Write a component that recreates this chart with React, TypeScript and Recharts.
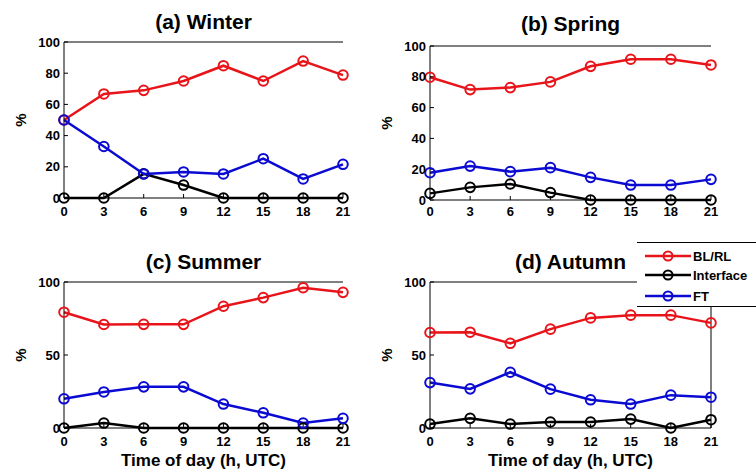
import { LineChart, Line, XAxis, YAxis, ReferenceLine, Label } from "recharts";

const hours = [0, 3, 6, 9, 12, 15, 18, 21];

const winterBL = [50, 66.7, 69, 75, 84.8, 75, 87.8, 78.8];
const winterInterface = [0, 0, 15.5, 8.3, 0, 0, 0, 0];
const winterFT = [50, 33, 15.4, 16.7, 15.4, 25.2, 12.2, 21.6];

const springBL = [79.7, 71.7, 73, 76.7, 86.8, 91.4, 91.4, 87.7];
const springInterface = [4.3, 8.2, 10.4, 4.8, 0, 0, 0, 0];
const springFT = [17.7, 22, 18.4, 21, 14.7, 9.7, 9.7, 13.4];

const summerBL = [79.3, 70.9, 71, 71, 83.4, 89.3, 96.1, 92.9];
const summerInterface = [0, 3.4, 0, 0, 0, 0, 0, 0];
const summerFT = [20, 24.7, 28.2, 28.2, 16.4, 10.4, 3.4, 6.6];

const autumnBL = [65.4, 65.6, 58, 67.7, 75.4, 77.3, 77.3, 72];
const autumnInterface = [2.7, 6.6, 2.7, 4.1, 4.1, 6.1, 0, 5.7];
const autumnFT = [31.1, 26.8, 38.2, 26.6, 19.3, 16.4, 22.5, 21.1];

const seriesNames = ["BL/RL", "Interface", "FT"];
const yTicksFine = [0, 20, 40, 60, 80, 100];
const yTicksCoarse = [0, 50, 100];

const RED = "#e8141a";
const BLACK = "#000000";
const BLUE = "#0a0ad2";
const COLORS = [RED, BLACK, BLUE];
const FONT = "Arial, 'Liberation Sans', sans-serif";

// y axis box is wider than needed so the rotated "%" sits well inside the svg
const Y_AXIS_W = 64;
const PAD = 12;

function buildRows(bl: number[], inter: number[], ft: number[]) {
  return hours.map((h, i) => ({ h, bl: bl[i], inter: inter[i], ft: ft[i] }));
}

const renderPct = (props: any) => {
  const vb = props.viewBox || { x: 0, y: 0, width: Y_AXIS_W, height: 0 };
  const cx = vb.x + vb.width - 44;
  const cy = vb.y + vb.height / 2;
  return (
    <text
      x={cx}
      y={cy}
      transform={`rotate(-90 ${cx} ${cy})`}
      textAnchor="middle"
      dominantBaseline="central"
      fill="#000"
      fontSize={15}
      fontWeight="bold"
      fontFamily={FONT}
    >
      %
    </text>
  );
};

interface PanelProps {
  title: string;
  bl: number[];
  inter: number[];
  ft: number[];
  yTicks: number[];
  left: number;
  right: number;
  top: number;
  bottom: number;
  titleY: number;
  xLabel?: boolean;
  rightBorder?: boolean;
  xTickMargin?: number;
}

function Panel(p: PanelProps) {
  const xh = p.xLabel ? 42 : 30;
  const width = Y_AXIS_W + (p.right - p.left) + PAD;
  const height = PAD + (p.bottom - p.top) + xh;
  const rows = buildRows(p.bl, p.inter, p.ft);
  const keys = ["bl", "inter", "ft"];
  const tickStyle = { fontSize: 13, fontWeight: "bold", fill: "#000", fontFamily: FONT };
  return (
    <>
      <div
        style={{
          position: "absolute",
          left: p.left,
          width: p.right - p.left,
          top: p.titleY - 13,
          lineHeight: "26px",
          textAlign: "center",
          fontFamily: FONT,
          fontWeight: "bold",
          fontSize: 21,
          color: "#000",
        }}
      >
        {p.title}
      </div>
      <div style={{ position: "absolute", left: p.left - Y_AXIS_W, top: p.top - PAD }}>
        <LineChart
          width={width}
          height={height}
          data={rows}
          margin={{ top: PAD, right: PAD, left: 0, bottom: 0 }}
        >
          <XAxis
            dataKey="h"
            type="number"
            domain={[0, 21]}
            ticks={hours}
            height={xh}
            tick={tickStyle}
            tickSize={-4}
            tickMargin={p.xTickMargin ?? 13}
            stroke="#000"
          >
            {p.xLabel && (
              <Label
                value="Time of day (h, UTC)"
                position="insideBottom"
                offset={4}
                style={{ fontSize: 17, fontWeight: "bold", fill: "#000", fontFamily: FONT }}
              />
            )}
          </XAxis>
          <YAxis
            type="number"
            domain={[0, 100]}
            ticks={p.yTicks}
            width={Y_AXIS_W}
            tick={tickStyle}
            tickSize={-4}
            tickMargin={8}
            stroke="#000"
          >
            <Label content={renderPct} />
          </YAxis>
          <ReferenceLine y={100} stroke="#000" strokeWidth={1} />
          {p.rightBorder && <ReferenceLine x={21} stroke="#000" strokeWidth={1} />}
          {keys.map((k, i) => (
            <Line
              key={k}
              dataKey={k}
              name={seriesNames[i]}
              stroke={COLORS[i]}
              strokeWidth={2.5}
              dot={{ r: 4.8, stroke: COLORS[i], strokeWidth: 2, fill: "none" }}
              isAnimationActive={false}
            />
          ))}
        </LineChart>
      </div>
    </>
  );
}

function LegendBox() {
  const rowsY = [13, 32, 53];
  return (
    <div
      style={{
        position: "absolute",
        left: 637,
        top: 242,
        width: 130,
        height: 63,
        background: "#fff",
        borderTop: "1px solid #000",
        borderBottom: "1px solid #000",
      }}
    >
      {seriesNames.map((name, i) => (
        <div
          key={name}
          style={{
            position: "absolute",
            left: 8,
            top: rowsY[i] - 9,
            height: 18,
            display: "flex",
            alignItems: "center",
          }}
        >
          <svg width={48} height={18}>
            <line x1={0} y1={9} x2={46} y2={9} stroke={COLORS[i]} strokeWidth={2.5} />
            <circle cx={23} cy={9} r={4.5} stroke={COLORS[i]} strokeWidth={2} fill="none" />
          </svg>
          <span style={{ fontFamily: FONT, fontWeight: "bold", fontSize: 13, color: "#000" }}>{name}</span>
        </div>
      ))}
    </div>
  );
}

export default function App() {
  return (
    <div
      style={{
        position: "absolute",
        left: 0,
        top: 0,
        width: 756,
        height: 470,
        background: "#fff",
        overflow: "hidden",
      }}
    >
      <Panel
        title="(a) Winter"
        bl={winterBL}
        inter={winterInterface}
        ft={winterFT}
        yTicks={yTicksFine}
        left={64}
        right={343}
        top={42}
        bottom={198}
        titleY={22}
      />
      <Panel
        title="(b) Spring"
        bl={springBL}
        inter={springInterface}
        ft={springFT}
        yTicks={yTicksFine}
        left={430}
        right={711}
        top={46}
        bottom={200}
        titleY={24}
        xTickMargin={11}
      />
      <Panel
        title="(c) Summer"
        bl={summerBL}
        inter={summerInterface}
        ft={summerFT}
        yTicks={yTicksCoarse}
        left={64}
        right={343}
        top={282}
        bottom={428}
        titleY={262}
        xLabel
      />
      <Panel
        title="(d) Autumn"
        bl={autumnBL}
        inter={autumnInterface}
        ft={autumnFT}
        yTicks={yTicksCoarse}
        left={430}
        right={711}
        top={282}
        bottom={428}
        titleY={262}
        xLabel
        rightBorder
      />
      <LegendBox />
    </div>
  );
}
